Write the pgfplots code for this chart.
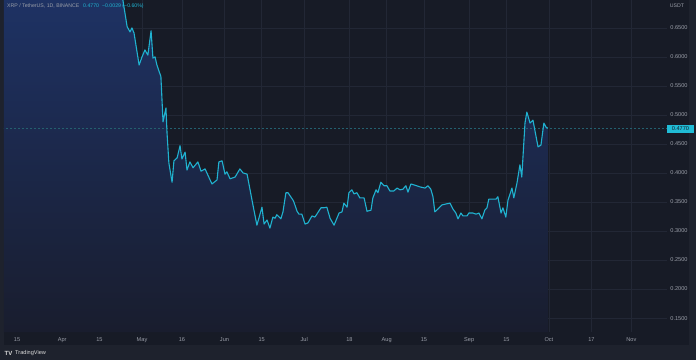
\documentclass[border=0pt]{standalone}
\usepackage{fontspec}
\setmainfont{Liberation Sans}
\usepackage{pgfplots}
\usepackage{pgfplotstable}
\pgfplotsset{compat=1.18}
\definecolor{bgpane}{HTML}{171B26}
\definecolor{bgout}{HTML}{1E222D}
\definecolor{gridc}{HTML}{222735}
\definecolor{linec}{HTML}{20B2D0}
\definecolor{txt}{HTML}{9A9EA8}
\definecolor{filltop}{RGB}{31,55,113}
\definecolor{fillbot}{RGB}{25,29,46}
\definecolor{dashc}{HTML}{24606F}
\definecolor{tagc}{HTML}{20BCD6}

\pgfplotstableread{
d v
-8 0.78
-6 0.77
-4 0.79
-2 0.78
0 0.77
2 0.79
4 0.80
6 0.79
8 0.81
10 0.82
12 0.83
14 0.84
16 0.82
18 0.83
20 0.82
22 0.80
24 0.77
26 0.76
28 0.78
30 0.78
32 0.77
34 0.76
36 0.74
38 0.72
39.8 0.698
41.4 0.652
42.5 0.643
43.2 0.650
44.0 0.641
45.9 0.586
47.0 0.600
48.1 0.612
49.2 0.603
50.4 0.645
51.1 0.598
51.9 0.600
52.6 0.586
54.1 0.566
54.9 0.488
56.0 0.512
56.4 0.469
57.1 0.417
58.3 0.384
59.0 0.421
60.2 0.426
61.3 0.447
62.0 0.424
63.2 0.436
63.9 0.405
65.0 0.419
66.2 0.409
68.0 0.419
69.2 0.403
70.7 0.407
73.3 0.381
75.2 0.388
75.9 0.419
77.1 0.421
78.2 0.398
78.9 0.402
80.1 0.390
82.0 0.393
83.8 0.407
85.0 0.400
86.5 0.398
88.7 0.345
90.2 0.310
92.1 0.341
92.9 0.312
94.0 0.319
95.1 0.305
96.2 0.324
97.0 0.322
97.7 0.328
99.2 0.321
100.0 0.333
101.1 0.366
101.9 0.366
103.8 0.353
104.1 0.350
105.3 0.334
106.0 0.329
107.1 0.329
108.3 0.312
109.4 0.314
110.9 0.326
112.0 0.324
114.3 0.340
115.4 0.340
116.5 0.341
117.7 0.322
119.2 0.310
121.1 0.331
122.2 0.333
122.9 0.348
124.1 0.341
124.8 0.366
125.9 0.371
126.7 0.364
127.8 0.366
128.9 0.357
130.5 0.357
131.6 0.334
133.1 0.336
133.8 0.357
135.0 0.371
135.7 0.366
136.8 0.384
138.0 0.378
139.1 0.378
140.2 0.369
141.7 0.369
142.9 0.374
144.0 0.371
145.1 0.372
146.2 0.378
147.0 0.367
148.1 0.381
149.6 0.379
151.5 0.376
153.4 0.374
154.5 0.378
155.6 0.372
156.4 0.359
157.1 0.333
158.3 0.338
159.8 0.345
161.7 0.347
162.8 0.348
163.9 0.338
165.0 0.331
165.8 0.321
166.9 0.331
167.7 0.326
169.2 0.326
169.9 0.331
171.4 0.331
172.6 0.329
173.7 0.331
174.8 0.321
175.9 0.336
176.7 0.340
177.4 0.355
178.6 0.355
180.1 0.355
180.8 0.359
182.0 0.331
182.7 0.340
183.8 0.324
184.6 0.353
186.1 0.374
186.8 0.357
188.0 0.383
189.1 0.414
189.8 0.393
191.0 0.486
191.7 0.505
192.9 0.486
194.0 0.491
194.7 0.474
195.9 0.445
197.0 0.448
198.1 0.486
198.9 0.479
199.6 0.477
}\xrp

\begin{document}
\begin{tikzpicture}
\useasboundingbox (0,0) rectangle (696pt,360pt);
\fill[bgout] (0,0) rectangle (696pt,360pt);
\fill[bgpane] (4pt,15pt) rectangle (689pt,360pt);
\begin{axis}[
  at={(4pt,28pt)}, anchor=south west,
  scale only axis, width=663pt, height=332pt,
  xmin=-4.9, xmax=244.4, ymin=0.126, ymax=0.698,
  axis line style={draw=none},
  major tick length=0pt,
  grid=major,
  major grid style={gridc, line width=0.6pt},
  xtick={0,17,31,47,62,78,92,108,125,139,153,170,184,200,216,231},
  xticklabels={15,Apr,15,May,16,Jun,15,Jul,18,Aug,15,Sep,15,Oct,17,Nov},
  ytick={0.15,0.20,0.25,0.30,0.35,0.40,0.45,0.50,0.55,0.60,0.65},
  yticklabel pos=right,
  /pgf/number format/assume math mode=true,
  yticklabel={\pgfmathprintnumber[fixed,fixed zerofill,precision=4]{\tick}},
  xticklabel style={font=\fontsize{5.6}{6}\selectfont, text=txt, anchor=base, yshift=-9pt},
  yticklabel style={font=\fontsize{5.6}{6}\selectfont, text=txt, anchor=center, xshift=12pt},
  clip=true,
]
\addplot[draw=none, top color=filltop, bottom color=fillbot] table[x=d, y=v] {\xrp} \closedcycle;
\addplot[dashc, line width=0.5pt, dash pattern=on 2pt off 2pt] coordinates {(-10,0.477) (250,0.477)};
\addplot[linec, line width=1.1pt, line join=round] table[x=d, y=v] {\xrp};
\end{axis}
% top-left legend
\node[anchor=west, inner sep=0pt, text=txt, font=\fontsize{5.2}{6}\selectfont] at (7pt,354pt) {XRP / TetherUS, 1D, BINANCE};
\node[anchor=west, inner sep=0pt, text=linec, font=\fontsize{5.2}{6}\selectfont] at (83pt,354pt) {0.4770\hspace{3pt}−0.0029 (−0.60\%)};
% price scale unit
\node[anchor=center, inner sep=0pt, text=txt, font=\fontsize{5.2}{6}\selectfont] at (677pt,354pt) {USDT};
% last price tag
\fill[tagc] (667pt,227pt) rectangle (694pt,235pt);
\node[anchor=center, inner sep=0pt, text=bgpane, font=\fontsize{5.6}{6}\selectfont] at (680.5pt,231pt) {0.4770};
% TradingView logo
\node[anchor=west, inner sep=0pt, text=white!85!black, font=\bfseries\fontsize{6}{6}\selectfont] at (4.5pt,7pt) {TV};
\node[anchor=west, inner sep=0pt, text=white!85!black, font=\fontsize{5.6}{6}\selectfont] at (15pt,7pt) {TradingView};
\end{tikzpicture}
\end{document}
